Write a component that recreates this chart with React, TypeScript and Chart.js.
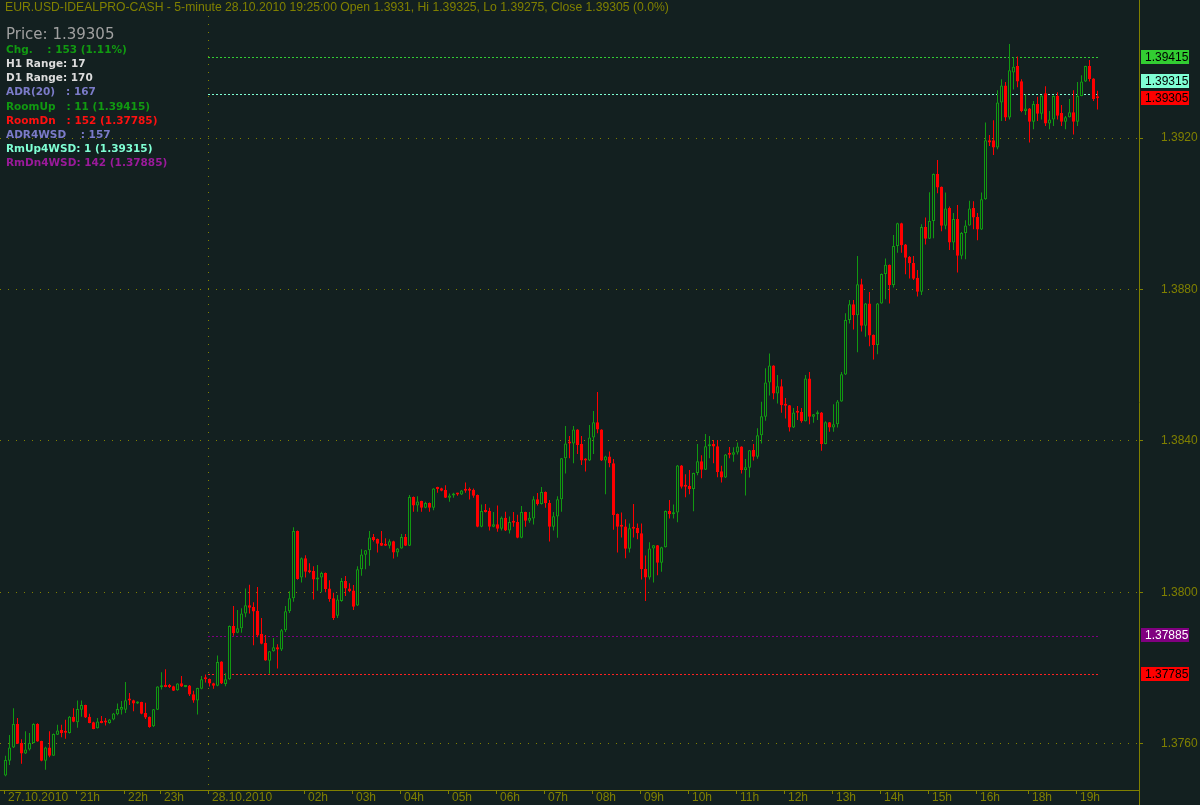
import React, { useEffect, useRef } from 'react';
import { Chart, registerables } from 'chart.js';

Chart.register(...registerables);

// ---------------- DATA ----------------
const opens = [
  1.37516,1.37555,1.37590,1.37652,1.37602,1.37574,1.37585,1.37602,1.37652,1.37607,
  1.37555,1.37590,1.37568,1.37624,1.37636,1.37632,1.37628,1.37671,1.37657,1.37690,
  1.37702,1.37671,1.37657,1.37641,1.37660,1.37657,1.37655,1.37664,1.37678,1.37690,
  1.37690,1.37716,1.37715,1.37706,1.37710,1.37681,1.37671,1.37646,1.37690,1.37749,
  1.37754,1.37753,1.37752,1.37741,1.37760,1.37750,1.37754,1.37731,1.37714,1.37745,
  1.37772,1.37771,1.37760,1.37753,1.37817,1.37758,1.37770,1.37911,1.37893,1.37905,
  1.37944,1.37966,1.37961,1.37951,1.37890,1.37866,1.37819,1.37844,1.37855,1.37849,
  1.37900,1.37950,1.37984,1.38162,1.38039,1.38090,1.38056,1.38056,1.38034,1.38039,
  1.38051,1.38010,1.37984,1.37938,1.37977,1.38030,1.38010,1.38005,1.37965,1.38061,
  1.38099,1.38111,1.38146,1.38141,1.38130,1.38125,1.38123,1.38135,1.38105,1.38116,
  1.38146,1.38123,1.38252,1.38229,1.38241,1.38223,1.38236,1.38223,1.38275,1.38275,
  1.38270,1.38250,1.38256,1.38260,1.38258,1.38270,1.38270,1.38271,1.38257,1.38173,
  1.38215,1.38215,1.38173,1.38180,1.38168,1.38197,1.38163,1.38186,1.38186,1.38144,
  1.38212,1.38189,1.38195,1.38246,1.38233,1.38265,1.38236,1.38173,1.38200,1.38246,
  1.38354,1.38394,1.38393,1.38430,1.38392,1.38350,1.38348,1.38409,1.38449,1.38430,
  1.38348,1.38359,1.38341,1.38207,1.38175,1.38174,1.38115,1.38170,1.38170,1.38156,
  1.38062,1.38039,1.38116,1.38124,1.38078,1.38119,1.38215,1.38206,1.38211,1.38335,
  1.38281,1.38281,1.38273,1.38315,1.38346,1.38324,1.38386,1.38392,1.38386,1.38320,
  1.38303,1.38366,1.38363,1.38369,1.38385,1.38323,1.38329,1.38376,1.38358,1.38415,
  1.38464,1.38554,1.38599,1.38525,1.38544,1.38495,1.38494,1.38435,1.38476,1.38476,
  1.38452,1.38565,1.38464,1.38470,1.38475,1.38392,1.38449,1.38435,1.38444,1.38504,
  1.38575,1.38719,1.38761,1.38732,1.38814,1.38704,1.38763,1.38680,1.38653,1.38763,
  1.38841,1.38865,1.38812,1.38915,1.38975,1.38919,1.38886,1.38870,1.38831,1.38794,
  1.38965,1.38934,1.38981,1.39105,1.39071,1.38968,1.39015,1.38924,1.38986,1.38889,
  1.38949,1.38969,1.39015,1.38991,1.38958,1.39038,1.39194,1.39194,1.39175,1.39294,
  1.39339,1.39254,1.39373,1.39390,1.39350,1.39271,1.39278,1.39243,1.39290,1.39264,
  1.39318,1.39238,1.39249,1.39311,1.39266,1.39243,1.39255,1.39268,1.39243,1.39311,
  1.39349,1.39390,1.39357,1.39310,
];

const highs = [
  1.37568,1.37623,1.37694,1.37668,1.37612,1.37633,1.37628,1.37654,1.37654,1.37608,
  1.37592,1.37633,1.37627,1.37650,1.37650,1.37663,1.37673,1.37694,1.37714,1.37714,
  1.37703,1.37679,1.37658,1.37668,1.37673,1.37668,1.37665,1.37681,1.37706,1.37713,
  1.37763,1.37734,1.37716,1.37712,1.37711,1.37708,1.37672,1.37692,1.37752,1.37789,
  1.37797,1.37758,1.37753,1.37760,1.37779,1.37755,1.37755,1.37740,1.37748,1.37779,
  1.37783,1.37772,1.37761,1.37833,1.37818,1.37786,1.37912,1.37964,1.37953,1.37958,
  1.38010,1.38020,1.37974,1.38014,1.37932,1.37887,1.37845,1.37879,1.37863,1.37903,
  1.37964,1.38003,1.38172,1.38163,1.38092,1.38098,1.38077,1.38069,1.38072,1.38054,
  1.38052,1.38032,1.37999,1.37993,1.38038,1.38043,1.38024,1.38019,1.38069,1.38114,
  1.38112,1.38162,1.38154,1.38142,1.38162,1.38143,1.38140,1.38136,1.38117,1.38154,
  1.38154,1.38257,1.38253,1.38254,1.38242,1.38239,1.38237,1.38275,1.38279,1.38276,
  1.38283,1.38261,1.38263,1.38263,1.38270,1.38290,1.38277,1.38274,1.38258,1.38232,
  1.38233,1.38223,1.38212,1.38229,1.38200,1.38213,1.38200,1.38212,1.38205,1.38228,
  1.38213,1.38212,1.38254,1.38262,1.38278,1.38266,1.38244,1.38212,1.38254,1.38355,
  1.38439,1.38413,1.38439,1.38431,1.38413,1.38354,1.38442,1.38479,1.38529,1.38431,
  1.38361,1.38372,1.38352,1.38208,1.38211,1.38193,1.38182,1.38233,1.38182,1.38182,
  1.38097,1.38132,1.38125,1.38125,1.38120,1.38216,1.38244,1.38232,1.38336,1.38336,
  1.38312,1.38323,1.38316,1.38392,1.38362,1.38418,1.38413,1.38402,1.38402,1.38334,
  1.38365,1.38384,1.38383,1.38396,1.38386,1.38352,1.38376,1.38392,1.38433,1.38503,
  1.38592,1.38631,1.38600,1.38574,1.38563,1.38513,1.38495,1.38487,1.38492,1.38487,
  1.38574,1.38582,1.38471,1.38480,1.38476,1.38452,1.38450,1.38497,1.38508,1.38582,
  1.38737,1.38772,1.38772,1.38888,1.38828,1.38764,1.38793,1.38681,1.38764,1.38842,
  1.38882,1.38866,1.38944,1.38976,1.38976,1.38920,1.38888,1.38888,1.38851,1.38972,
  1.38990,1.39057,1.39106,1.39142,1.39072,1.39056,1.39019,1.39002,1.39023,1.38952,
  1.38983,1.39034,1.39033,1.39002,1.39056,1.39241,1.39208,1.39247,1.39326,1.39355,
  1.39348,1.39448,1.39413,1.39415,1.39355,1.39315,1.39279,1.39298,1.39309,1.39313,
  1.39337,1.39271,1.39312,1.39321,1.39287,1.39258,1.39303,1.39326,1.39348,1.39366,
  1.39391,1.39406,1.39358,1.39325,
];

const lows = [
  1.37514,1.37544,1.37589,1.37599,1.37547,1.37573,1.37582,1.37601,1.37605,1.37554,
  1.37531,1.37564,1.37568,1.37623,1.37617,1.37613,1.37627,1.37657,1.37642,1.37671,
  1.37668,1.37654,1.37638,1.37640,1.37654,1.37648,1.37653,1.37662,1.37675,1.37677,
  1.37681,1.37702,1.37686,1.37705,1.37678,1.37665,1.37642,1.37644,1.37689,1.37743,
  1.37749,1.37747,1.37739,1.37740,1.37750,1.37749,1.37726,1.37708,1.37677,1.37744,
  1.37762,1.37751,1.37745,1.37752,1.37758,1.37752,1.37769,1.37885,1.37892,1.37893,
  1.37934,1.37944,1.37860,1.37881,1.37863,1.37819,1.37785,1.37843,1.37799,1.37845,
  1.37895,1.37945,1.37975,1.38033,1.38026,1.38039,1.38050,1.37981,1.38004,1.38000,
  1.38000,1.37975,1.37927,1.37932,1.37975,1.37990,1.38000,1.37953,1.37964,1.38044,
  1.38061,1.38070,1.38134,1.38105,1.38122,1.38122,1.38116,1.38089,1.38094,1.38115,
  1.38122,1.38122,1.38213,1.38213,1.38213,1.38222,1.38213,1.38217,1.38263,1.38267,
  1.38249,1.38239,1.38250,1.38255,1.38257,1.38263,1.38245,1.38250,1.38172,1.38172,
  1.38211,1.38163,1.38172,1.38160,1.38163,1.38162,1.38155,1.38173,1.38143,1.38143,
  1.38173,1.38184,1.38179,1.38229,1.38232,1.38223,1.38134,1.38163,1.38144,1.38213,
  1.38314,1.38354,1.38341,1.38365,1.38336,1.38319,1.38347,1.38365,1.38420,1.38347,
  1.38259,1.38330,1.38165,1.38105,1.38145,1.38090,1.38105,1.38145,1.38140,1.38034,
  1.37977,1.38034,1.38026,1.38045,1.38054,1.38118,1.38195,1.38195,1.38185,1.38274,
  1.38251,1.38259,1.38214,1.38309,1.38301,1.38323,1.38354,1.38341,1.38304,1.38290,
  1.38302,1.38354,1.38345,1.38364,1.38314,1.38256,1.38303,1.38348,1.38353,1.38393,
  1.38453,1.38520,1.38510,1.38499,1.38474,1.38459,1.38425,1.38434,1.38455,1.38448,
  1.38451,1.38444,1.38448,1.38455,1.38374,1.38391,1.38424,1.38424,1.38435,1.38503,
  1.38574,1.38710,1.38694,1.38634,1.38689,1.38675,1.38650,1.38615,1.38629,1.38762,
  1.38774,1.38763,1.38805,1.38897,1.38897,1.38840,1.38829,1.38825,1.38781,1.38785,
  1.38919,1.38933,1.38935,1.39054,1.38954,1.38959,1.38904,1.38904,1.38845,1.38880,
  1.38880,1.38968,1.38959,1.38930,1.38957,1.39037,1.39179,1.39155,1.39170,1.39245,
  1.39245,1.39249,1.39328,1.39334,1.39268,1.39261,1.39188,1.39223,1.39245,1.39249,
  1.39232,1.39223,1.39232,1.39249,1.39232,1.39223,1.39254,1.39209,1.39232,1.39310,
  1.39348,1.39349,1.39298,1.39275,
];

const closes = [
  1.37557,1.37590,1.37652,1.37600,1.37574,1.37585,1.37602,1.37652,1.37606,1.37555,
  1.37590,1.37568,1.37626,1.37635,1.37628,1.37629,1.37671,1.37658,1.37692,1.37702,
  1.37669,1.37655,1.37639,1.37659,1.37655,1.37656,1.37664,1.37680,1.37692,1.37697,
  1.37715,1.37714,1.37706,1.37711,1.37679,1.37669,1.37644,1.37691,1.37751,1.37754,
  1.37750,1.37750,1.37740,1.37759,1.37751,1.37754,1.37730,1.37714,1.37747,1.37770,
  1.37770,1.37759,1.37753,1.37816,1.37759,1.37770,1.37911,1.37892,1.37905,1.37944,
  1.37966,1.37959,1.37949,1.37886,1.37864,1.37820,1.37844,1.37855,1.37849,1.37900,
  1.37950,1.37984,1.38162,1.38035,1.38090,1.38054,1.38053,1.38034,1.38039,1.38051,
  1.38009,1.37982,1.37932,1.37981,1.38030,1.38010,1.38003,1.37962,1.38061,1.38100,
  1.38111,1.38145,1.38138,1.38128,1.38123,1.38123,1.38135,1.38105,1.38116,1.38146,
  1.38123,1.38252,1.38229,1.38240,1.38223,1.38236,1.38223,1.38274,1.38273,1.38268,
  1.38250,1.38256,1.38260,1.38258,1.38269,1.38268,1.38268,1.38255,1.38173,1.38215,
  1.38212,1.38173,1.38180,1.38168,1.38197,1.38163,1.38186,1.38184,1.38144,1.38212,
  1.38189,1.38197,1.38246,1.38233,1.38265,1.38235,1.38173,1.38201,1.38246,1.38354,
  1.38393,1.38393,1.38430,1.38389,1.38348,1.38348,1.38409,1.38449,1.38430,1.38348,
  1.38359,1.38341,1.38204,1.38173,1.38173,1.38115,1.38169,1.38168,1.38156,1.38061,
  1.38039,1.38116,1.38124,1.38078,1.38119,1.38215,1.38206,1.38211,1.38335,1.38279,
  1.38279,1.38273,1.38315,1.38346,1.38324,1.38386,1.38391,1.38385,1.38318,1.38303,
  1.38364,1.38363,1.38370,1.38385,1.38323,1.38330,1.38375,1.38358,1.38415,1.38465,
  1.38554,1.38599,1.38525,1.38544,1.38494,1.38493,1.38435,1.38475,1.38474,1.38452,
  1.38565,1.38464,1.38470,1.38475,1.38392,1.38449,1.38435,1.38444,1.38504,1.38576,
  1.38719,1.38761,1.38732,1.38814,1.38704,1.38763,1.38678,1.38653,1.38763,1.38841,
  1.38865,1.38812,1.38915,1.38975,1.38917,1.38884,1.38869,1.38828,1.38794,1.38965,
  1.38934,1.38981,1.39105,1.39069,1.38968,1.39014,1.38924,1.38986,1.38889,1.38949,
  1.38969,1.39014,1.38990,1.38958,1.39038,1.39194,1.39188,1.39175,1.39294,1.39339,
  1.39254,1.39379,1.39388,1.39349,1.39271,1.39278,1.39243,1.39290,1.39264,1.39312,
  1.39238,1.39249,1.39311,1.39259,1.39243,1.39255,1.39268,1.39243,1.39311,1.39349,
  1.39390,1.39356,1.39303,1.39305,
];

// x-axis: candle index of each labelled hour
const tickIndices = [0, 18, 30, 39, 51, 75, 87, 99, 111, 123, 135, 147, 159, 171, 183, 195, 207, 219, 231, 243, 256, 268];
const tickLabels = ['27.10.2010', '21h', '22h', '23h', '28.10.2010', '02h', '03h', '04h', '05h', '06h', '07h', '08h', '09h', '10h', '11h', '12h', '13h', '14h', '15h', '16h', '18h', '19h'];
const dayStartIndex = 51;

// y-axis ticks
const priceTicks = [1.376, 1.38, 1.384, 1.388, 1.392];

// horizontal level lines
const levelValues = [1.39415, 1.39315, 1.37885, 1.37785];
// right side price boxes
const boxValues = [1.39415, 1.39315, 1.39305, 1.37885, 1.37785];

const titleText = 'EUR.USD-IDEALPRO-CASH - 5-minute 28.10.2010 19:25:00 Open 1.3931, Hi 1.39325, Lo 1.39275, Close 1.39305 (0.0%)';
const priceLine = 'Price: 1.39305';
const infoLines = [
  'Chg.    : 153 (1.11%)',
  'H1 Range: 17',
  'D1 Range: 170',
  'ADR(20)   : 167',
  'RoomUp   : 11 (1.39415)',
  'RoomDn   : 152 (1.37785)',
  'ADR4WSD    : 157',
  'RmUp4WSD: 1 (1.39315)',
  'RmDn4WSD: 142 (1.37885)',
];

// ---------------- STYLE ----------------
const BG = '#132020';
const OLIVE = '#808000';
const UP = '#119911';
const DOWN = '#ff0000';
const levelColors = ['#32cd32', '#7fffd4', '#800080', '#ff2020'];
const boxBg = ['#32cd32', '#7fffd4', '#ff0000', '#800080', '#ff0000'];
const boxFg = ['#000000', '#000000', '#000000', '#ffffff', '#000000'];
const boxNudge = [0, -13, 0, -1, 0];
const infoColors = ['#119911', '#dcdcdc', '#dcdcdc', '#7b7bc8', '#119911', '#ff1010', '#7b7bc8', '#7fffd4', '#9a1a9a'];
const infoY = [50.5, 64.5, 78.5, 92.5, 107, 121, 135, 149, 163];

const decorPlugin = {
  id: 'decor',
  beforeDraw(chart: any) {
    const { ctx, width, height } = chart;
    ctx.save();
    ctx.fillStyle = BG;
    ctx.fillRect(0, 0, width, height);
    ctx.restore();
  },
  beforeDatasetsDraw(chart: any) {
    const { ctx, scales } = chart;
    const xs = scales.x;
    const ys = scales.y;
    const x1 = Math.round(xs.getPixelForValue(dayStartIndex - 0.375));
    const x2 = Math.round(xs.getPixelForValue(opens.length - 1));
    ctx.save();
    ctx.lineWidth = 1;
    ctx.setLineDash([2, 2]);
    levelValues.forEach((v, k) => {
      const py = Math.round(ys.getPixelForValue(v)) + 0.5;
      ctx.strokeStyle = levelColors[k];
      ctx.beginPath();
      ctx.moveTo(x1, py);
      ctx.lineTo(x2, py);
      ctx.stroke();
    });
    ctx.restore();
  },
  afterDraw(chart: any) {
    const { ctx, chartArea, scales } = chart;
    const ys = scales.y;
    ctx.save();
    ctx.strokeStyle = OLIVE;
    ctx.lineWidth = 1;
    ctx.beginPath();
    ctx.moveTo(chartArea.right + 0.5, 0);
    ctx.lineTo(chartArea.right + 0.5, chart.height);
    ctx.stroke();

    ctx.textBaseline = 'middle';
    ctx.textAlign = 'left';
    ctx.font = "12px 'Liberation Sans', Arial, sans-serif";
    boxValues.forEach((v, k) => {
      const cy = Math.round(ys.getPixelForValue(v)) + boxNudge[k];
      ctx.fillStyle = boxBg[k];
      ctx.fillRect(chartArea.right + 2, cy - 7, 48, 14);
      ctx.fillStyle = boxFg[k];
      ctx.fillText(v.toFixed(5), chartArea.right + 6, cy + 0.5);
    });

    ctx.font = "12.2px 'Liberation Sans', Arial, sans-serif";
    ctx.fillStyle = OLIVE;
    ctx.fillText(titleText, 5, 8);

    ctx.font = "15px 'DejaVu Sans', sans-serif";
    ctx.fillStyle = '#a0a0a0';
    ctx.fillText(priceLine, 6, 35);

    ctx.font = "bold 10.5px 'DejaVu Sans', sans-serif";
    infoLines.forEach((t, k) => {
      ctx.fillStyle = infoColors[k];
      ctx.fillText(t, 6, infoY[k]);
    });
    ctx.restore();
  },
};

export default function App() {
  const ref = useRef<HTMLCanvasElement>(null);
  useEffect(() => {
    document.body.style.margin = '0';
    document.body.style.background = BG;
    const canvas = ref.current;
    if (!canvas) return;
    const up = opens.map((o, i) => closes[i] >= o);
    const chart = new Chart(canvas, {
      type: 'bar',
      data: {
        datasets: [
          {
            label: 'wick',
            data: lows.map((l, i) => ({ x: i, y: [l, highs[i]] })) as any,
            backgroundColor: up.map((u) => (u ? UP : DOWN)),
            borderWidth: 0,
            barThickness: 1,
            grouped: false,
            order: 2,
            inflateAmount: 0,
            minBarLength: 1,
          } as any,
          {
            label: 'body',
            data: opens.map((o, i) => ({ x: i, y: [o, closes[i]] })) as any,
            backgroundColor: up.map((u) => (u ? BG : DOWN)),
            borderColor: up.map((u) => (u ? UP : DOWN)),
            borderWidth: 1,
            borderSkipped: false,
            barThickness: 3,
            grouped: false,
            order: 1,
            inflateAmount: 0,
            minBarLength: 2,
          } as any,
        ],
      },
      options: {
        responsive: false,
        animation: false,
        events: [],
        layout: { padding: { top: 16, left: 0, right: 0, bottom: 0 } },
        plugins: {
          legend: { display: false },
          tooltip: { enabled: false },
          title: { display: false },
        },
        scales: {
          x: {
            type: 'linear',
            min: -1.375,
            max: 283.375,
            offset: false,
            afterBuildTicks: (s: any) => {
              s.ticks = tickIndices.map((i) => ({ value: i - 0.375 }));
            },
            afterFit: (s: any) => {
              s.height = 15;
              s.paddingLeft = 0;
              s.paddingRight = 0;
              s.paddingTop = 0;
              s.paddingBottom = 0;
            },
            ticks: {
              autoSkip: false,
              maxRotation: 0,
              minRotation: 0,
              align: 'start',
              labelOffset: 4,
              padding: -2,
              color: OLIVE,
              font: { family: "'Liberation Sans', Arial, sans-serif", size: 12, lineHeight: 1 },
              callback: (_v: any, idx: number) => tickLabels[idx],
            },
            grid: {
              offset: false,
              color: (ctx: any) =>
                ctx.tick && Math.abs(ctx.tick.value - (dayStartIndex - 0.375)) < 1e-6 ? OLIVE : 'rgba(0,0,0,0)',
              lineWidth: 1,
              drawTicks: true,
              tickLength: 4,
              tickColor: OLIVE,
              tickWidth: 1,
            },
            border: { display: true, color: OLIVE, width: 1, dash: [1, 7] },
          } as any,
          y: {
            type: 'linear',
            position: 'right',
            min: 1.3747776,
            max: 1.3952226,
            afterBuildTicks: (s: any) => {
              s.ticks = priceTicks.map((v) => ({ value: v }));
            },
            afterFit: (s: any) => {
              s.width = 61;
              s.paddingTop = 0;
              s.paddingBottom = 0;
              s.paddingLeft = 0;
              s.paddingRight = 0;
            },
            ticks: {
              color: OLIVE,
              padding: 18,
              font: { family: "'Liberation Sans', Arial, sans-serif", size: 12 },
              callback: (v: any) => Number(v).toFixed(4),
            },
            grid: {
              color: OLIVE,
              lineWidth: 1,
              drawTicks: true,
              tickLength: 4,
              tickColor: OLIVE,
            },
            border: { display: false, dash: [1, 7] },
          } as any,
        },
      },
      plugins: [decorPlugin],
    });
    return () => chart.destroy();
  }, []);
  return <canvas ref={ref} width={1200} height={805} style={{ display: 'block' }} />;
}
